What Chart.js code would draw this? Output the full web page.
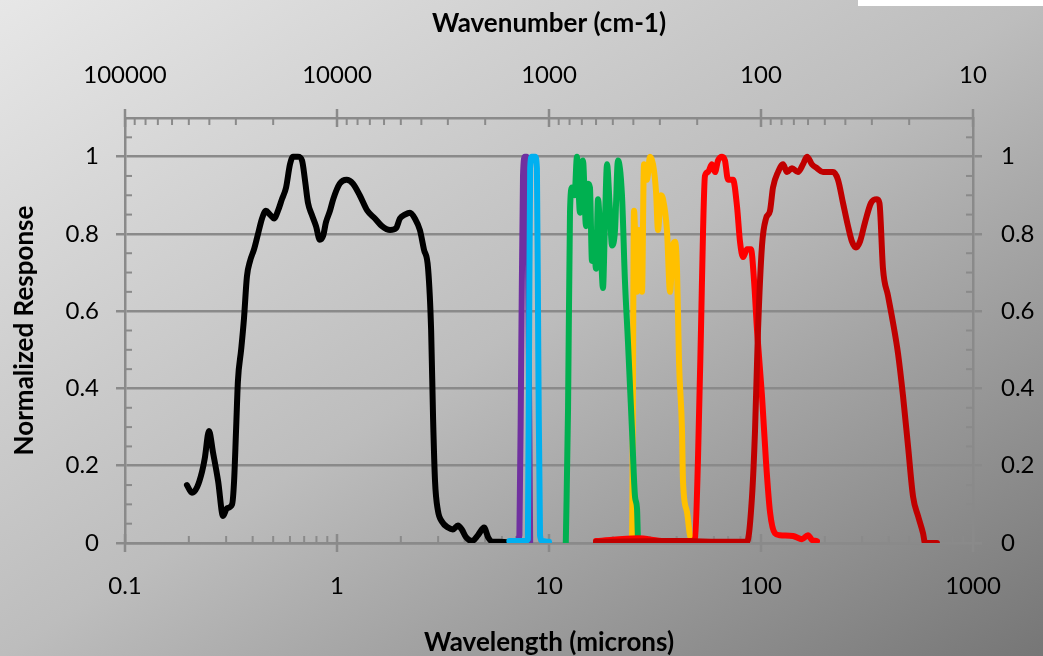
<!DOCTYPE html>
<html>
<head>
<meta charset="utf-8">
<script src="https://cdn.jsdelivr.net/npm/chart.js@4.4.1/dist/chart.umd.min.js"></script>
<style>
  html, body { margin: 0; padding: 0; }
  #wrap {
    position: relative; width: 1043px; height: 656px; overflow: hidden;
    background: linear-gradient(to bottom right, #e7e7e7 0%, #bdbdbd 50%, #767676 100%);
  }
  #tab { position: absolute; left: 858px; top: 0; width: 185px; height: 6px; background: #fff; }
</style>
</head>
<body>
<div id="wrap"><canvas id="chart"></canvas><div id="tab"></div></div>
<script>
// axis ticks
const wavelengthTicks = [0.1, 1, 10, 100, 1000];
const wavenumberTicks = [10, 100, 1000, 10000, 100000];
const responseTicks = [0, 0.2, 0.4, 0.6, 0.8, 1];

// filter curves: wavelength (microns) and normalized response
const blackWl = [0.196, 0.207, 0.219, 0.231, 0.238, 0.249, 0.26, 0.275, 0.29, 0.303, 0.32, 0.327, 0.334, 0.341,
  0.353, 0.364, 0.376, 0.389, 0.406, 0.424, 0.443, 0.462, 0.483, 0.505, 0.527, 0.55, 0.575, 0.6, 0.62, 0.655,
  0.684, 0.706, 0.73, 0.76, 0.796, 0.83, 0.86, 0.887, 0.927, 0.96, 1.03, 1.11, 1.19, 1.28, 1.39, 1.51, 1.63,
  1.78, 1.9, 1.98, 2.09, 2.21, 2.33, 2.46, 2.57, 2.69, 2.78, 2.84, 2.9, 2.99, 3.13, 3.34, 3.52, 3.72, 3.88,
  4.06, 4.33, 4.62, 4.94, 5.16, 5.44, 5.87, 6.9];
const blackResp = [0.15, 0.13, 0.145, 0.185, 0.22, 0.29, 0.235, 0.16, 0.07, 0.09, 0.1, 0.16, 0.29, 0.42,
  0.5, 0.58, 0.69, 0.73, 0.76, 0.8, 0.84, 0.86, 0.85, 0.84, 0.86, 0.89, 0.92, 0.98, 1.0, 1.0,
  0.99, 0.94, 0.88, 0.85, 0.82, 0.785, 0.795, 0.83, 0.86, 0.89, 0.93, 0.94, 0.93, 0.9, 0.86, 0.84, 0.82,
  0.81, 0.815, 0.84, 0.85, 0.855, 0.84, 0.81, 0.76, 0.71, 0.55, 0.32, 0.16, 0.085, 0.055, 0.04, 0.035, 0.045, 0.035,
  0.015, 0.005, 0.02, 0.04, 0.015, 0.003, 0.003, 0];

const purpleWl = [7.0, 7.25, 7.4, 7.54, 7.7, 7.85, 8.0, 8.15];
const purpleResp = [0, 0.02, 0.5, 0.95, 1.0, 1.0, 0.6, 0];

const blueWl = [6.5, 7.7, 7.95, 8.05, 8.15, 8.3, 8.6, 8.77, 8.9, 9.07, 9.3, 10.0];
const blueResp = [0.005, 0.005, 0.01, 0.5, 0.97, 1.0, 1.0, 0.97, 0.5, 0.02, 0.005, 0.003];

const greenWl = [12.0, 12.3, 12.56, 12.84, 13.2, 13.55, 14.0, 14.46, 14.95, 15.3, 15.6, 15.95, 16.3, 16.66,
  17.03, 17.5, 17.97, 18.4, 18.78, 19.3, 19.83, 20.48, 21.15, 22.09, 22.81, 23.58, 24.64, 25.45, 26.01, 26.3, 26.87];
const greenResp = [0, 0.35, 0.855, 0.92, 0.9, 1.0, 0.855, 0.99, 0.82, 0.93, 0.92, 0.73, 0.78, 0.71,
  0.89, 0.78, 0.66, 0.85, 0.98, 0.88, 0.77, 0.81, 0.99, 0.9, 0.68, 0.52, 0.29, 0.12, 0.09, 0.01, 0];

const yellowWl = [22.09, 24.2, 24.64, 25.18, 26.0, 26.58, 27.46, 28.06, 29.0, 29.95, 30.95, 31.97, 32.67,
  33.76, 34.5, 36.0, 37.23, 38.46, 39.3, 40.16, 41.04, 42.41, 42.86, 44.77, 46.24, 47.77];
const yellowResp = [0, 0.01, 0.02, 0.86, 0.65, 0.81, 0.65, 0.98, 0.94, 1.0, 0.98, 0.91, 0.81,
  0.9, 0.89, 0.81, 0.65, 0.77, 0.78, 0.71, 0.47, 0.29, 0.16, 0.08, 0.02, 0];

const redWl = [16.66, 26.3, 35, 47.0, 48.8, 50.4, 52.1, 53.3, 54.4, 56.2, 58.7, 60.7, 62.7, 65.5, 67.6,
  69.9, 73.8, 77.1, 79.6, 82.3, 85.9, 89.7, 92.7, 95.8, 101.1, 105.6, 110.3, 116.4, 122.9, 141.6, 156.1,
  166.6, 174.0, 183.8];
const redResp = [0.005, 0.012, 0.005, 0.005, 0.01, 0.21, 0.55, 0.81, 0.95, 0.96, 0.98, 0.96, 0.99, 1.0, 0.99,
  0.94, 0.94, 0.87, 0.78, 0.74, 0.76, 0.76, 0.68, 0.55, 0.38, 0.21, 0.08, 0.025, 0.02, 0.018, 0.01,
  0.02, 0.008, 0.005];

const darkRedWl = [16.66, 40, 70, 85.9, 90.7, 93.7, 96.8, 101.1, 105.6, 110.3, 113.9, 120.3, 127.0, 132.7,
  140.0, 149.4, 157.8, 164.8, 174.0, 183.8, 196.1, 218.6, 230.8, 243.7, 257.3, 268.7, 280.6, 293.0, 309.5,
  330.3, 352.5, 362, 376.2, 397.3, 419.5, 443.0, 467.7, 493.9, 521.5, 550.6, 581.4, 593.9, 676];
const darkRedResp = [0.003, 0.005, 0.003, 0.003, 0.12, 0.29, 0.55, 0.77, 0.84, 0.86, 0.92, 0.96, 0.98, 0.96,
  0.97, 0.96, 0.98, 1.0, 0.98, 0.97, 0.96, 0.96, 0.94, 0.88, 0.82, 0.78, 0.765, 0.78, 0.83,
  0.88, 0.89, 0.88, 0.71, 0.64, 0.57, 0.49, 0.38, 0.25, 0.12, 0.07, 0.025, 0, 0];

const axisGray = '#8a8a8a';
const labelFont = { family: 'Lato', size: 24 };
const titleFont = { family: 'Lato', size: 26, weight: 'bold' };

const pts = (wl, resp) => wl.map((x, i) => ({ x, y: resp[i] }));

function curve(wl, resp, color, order) {
  return {
    data: pts(wl, resp),
    borderColor: color,
    borderWidth: 6,
    borderJoinStyle: 'round',
    borderCapStyle: 'round',
    pointRadius: 0,
    showLine: true,
    cubicInterpolationMode: 'monotone',
    order
  };
}

// small inward ticks: log minors on both x axes, 0.05 steps on both y axes
const minorTicks = {
  id: 'minorTicks',
  beforeDatasetsDraw(chart) {
    const { ctx, chartArea: a, scales } = chart;
    const seg = (x1, y1, x2, y2) => { ctx.beginPath(); ctx.moveTo(x1, y1); ctx.lineTo(x2, y2); ctx.stroke(); };
    ctx.save();
    ctx.strokeStyle = axisGray;
    ctx.lineWidth = 2;
    for (let e = -1; e < 3; e++) {
      for (let k = 2; k < 10; k++) {
        const px = scales.x.getPixelForValue(k * Math.pow(10, e));
        seg(px, a.bottom, px, a.bottom - 7);
      }
    }
    for (let e = 1; e < 5; e++) {
      for (let k = 2; k < 10; k++) {
        const px = scales.x2.getPixelForValue(k * Math.pow(10, e));
        seg(px, a.top, px, a.top + 7);
      }
    }
    ctx.lineWidth = 2.5;
    wavelengthTicks.forEach(v => {
      const px = scales.x.getPixelForValue(v);
      seg(px, a.bottom - 9, px, a.bottom + 9);
    });
    wavenumberTicks.forEach(v => {
      const px = scales.x2.getPixelForValue(v);
      seg(px, a.top - 9, px, a.top + 9);
    });
    ctx.lineWidth = 2;
    for (let i = 1; i < 22; i++) {
      if (i % 4 === 0) continue;
      const py = scales.y.getPixelForValue(i * 0.05);
      seg(a.left, py, a.left + 7, py);
      seg(a.right, py, a.right - 7, py);
    }
    ctx.restore();
  }
};

const decadeLabel = v => String(v);
const responseLabel = v => String(Math.round(v * 10) / 10);

new Chart(document.getElementById('chart'), {
  type: 'scatter',
  data: {
    datasets: [
      curve(blackWl, blackResp, '#000000', 7),
      curve(purpleWl, purpleResp, '#7030a0', 6),
      curve(blueWl, blueResp, '#00b0f0', 5),
      curve(yellowWl, yellowResp, '#ffc000', 4),
      curve(greenWl, greenResp, '#00b050', 3),
      curve(redWl, redResp, '#ff0000', 2),
      curve(darkRedWl, darkRedResp, '#c00000', 1)
    ]
  },
  options: {
    responsive: true,
    maintainAspectRatio: false,
    animation: false,
    layout: { padding: 0 },
    plugins: {
      legend: { display: false },
      tooltip: { enabled: false }
    },
    scales: {
      x: {
        type: 'logarithmic',
        position: 'bottom',
        min: 0.1,
        max: 1000,
        afterBuildTicks: s => { s.ticks = wavelengthTicks.map(v => ({ value: v })); },
        afterFit: s => { s.height = 113; },
        grid: { display: false },
        border: { display: true, color: axisGray, width: 2.5 },
        ticks: { color: '#000', font: labelFont, padding: 21, maxRotation: 0, autoSkip: false, callback: decadeLabel },
        title: { display: true, text: 'Wavelength (microns)', color: '#000', font: titleFont, padding: { top: 0, bottom: -2 } }
      },
      x2: {
        type: 'logarithmic',
        position: 'top',
        reverse: true,
        min: 10,
        max: 100000,
        afterBuildTicks: s => { s.ticks = wavenumberTicks.map(v => ({ value: v })); },
        afterFit: s => { s.height = 118; },
        grid: { display: false },
        border: { display: true, color: axisGray, width: 2.5 },
        ticks: { color: '#000', font: labelFont, padding: 20, maxRotation: 0, autoSkip: false, callback: decadeLabel },
        title: { display: true, text: 'Wavenumber (cm-1)', color: '#000', font: titleFont, padding: { top: 8, bottom: 0 } }
      },
      y: {
        position: 'left',
        min: 0,
        max: 1.1,
        afterBuildTicks: s => { s.ticks = responseTicks.map(v => ({ value: v })); },
        afterFit: s => { s.width = 125; },
        grid: { color: axisGray, lineWidth: 2.5, tickLength: 9 },
        border: { display: true, color: axisGray, width: 2.5 },
        ticks: { color: '#000', font: labelFont, padding: 17, callback: responseLabel },
        title: { display: true, text: 'Normalized Response', color: '#000', font: titleFont, padding: { top: 9, bottom: 0 } }
      },
      y2: {
        position: 'right',
        min: 0,
        max: 1.1,
        afterBuildTicks: s => { s.ticks = responseTicks.map(v => ({ value: v })); },
        afterFit: s => { s.width = 70; },
        grid: { drawOnChartArea: false, color: axisGray, lineWidth: 2.5, tickLength: 9 },
        border: { display: true, color: axisGray, width: 2.5 },
        ticks: { color: '#000', font: labelFont, padding: 19, callback: responseLabel }
      }
    }
  },
  plugins: [minorTicks]
});
</script>
</body>
</html>
